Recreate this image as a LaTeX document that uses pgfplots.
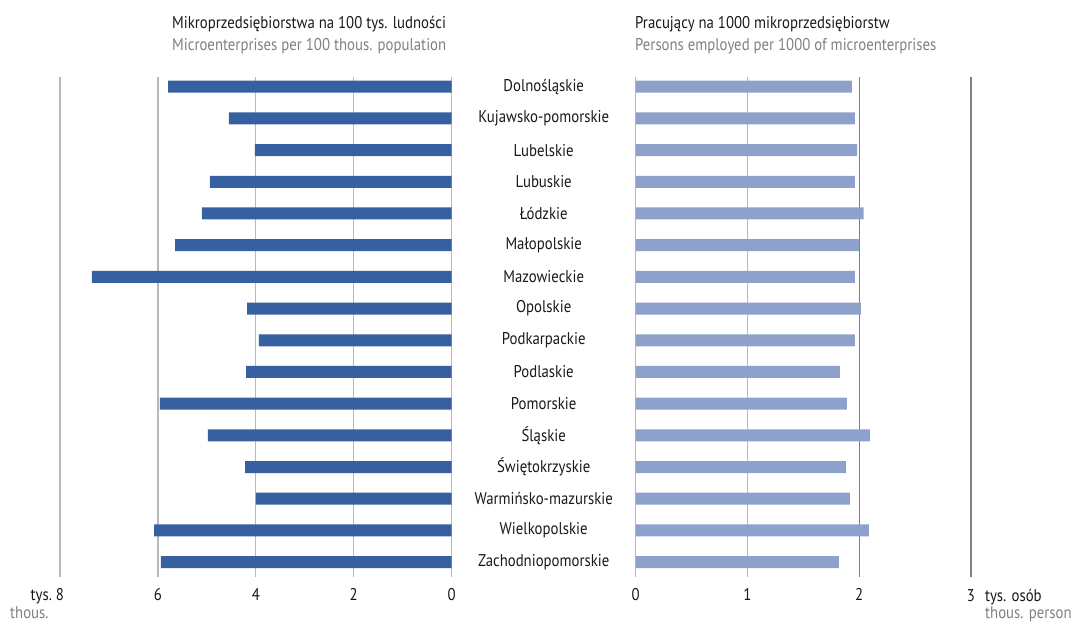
\documentclass[border=0pt]{standalone}
\usepackage{fontspec}
\setmainfont{PT Sans}[FakeStretch=0.87]
\usepackage{pgfplots}
\pgfplotsset{compat=1.18}
\definecolor{barL}{RGB}{54,96,160}
\definecolor{barR}{RGB}{142,161,203}
\definecolor{gridL}{RGB}{185,185,185}
\definecolor{gridD}{RGB}{128,128,128}
\definecolor{subgray}{RGB}{128,128,128}
\newcommand\fs{\fontsize{17}{20}\selectfont}

\pgfplotsset{
  halfbar/.style={
    scale only axis,
    xbar,
    bar width=12pt,
    height=500pt,
    y dir=reverse,
    ymin=0.694, ymax=16.47,
    axis line style={draw=none},
    major tick length=0pt,
    xmajorgrids=true,
    grid style={gridL, line width=1.3pt},
    ticklabel style={font=\fs, text=black!90},
    xticklabel style={yshift=-6pt},
  }
}

\begin{document}
\fs
\begin{tikzpicture}[x=1pt,y=1pt]
\useasboundingbox (0,0) rectangle (1073,621);

% lewa czesc: mikroprzedsiebiorstwa na 100 tys. ludnosci
\begin{axis}[halfbar,
  at={(60pt,44pt)}, anchor=south west,
  width=391.7pt,
  x dir=reverse,
  xmin=0, xmax=8,
  xtick={0,2,4,6,8},
  xticklabels={0,2,4,6,\llap{tys.\hspace{4pt}}8},
  ytick=\empty,
]
\addplot[fill=barL, draw=none] coordinates {
  (5.79,1) (4.55,2) (4.02,3) (4.94,4) (5.10,5) (5.65,6) (7.35,7) (4.18,8)
  (3.94,9) (4.20,10) (5.96,11) (4.98,12) (4.22,13) (4.00,14) (6.08,15) (5.94,16)
};
\end{axis}

% prawa czesc: pracujacy na 1000 mikroprzedsiebiorstw
\begin{axis}[halfbar,
  at={(635.7pt,44pt)}, anchor=south west,
  width=335.3pt,
  xmin=0, xmax=3,
  xtick={0,1,2,3},
  xticklabels={0,1,2,3\rlap{\hspace{10pt}tys. osób}},
  extra x ticks={2,3},
  extra x tick labels={},
  extra x tick style={grid style={gridD, line width=1.3pt}},
  ytick={1,...,16},
  yticklabels={Dolnośląskie,Kujawsko-pomorskie,Lubelskie,Lubuskie,Łódzkie,Małopolskie,Mazowieckie,Opolskie,Podkarpackie,Podlaskie,Pomorskie,Śląskie,Świętokrzyskie,Warmińsko-mazurskie,Wielkopolskie,Zachodniopomorskie},
  yticklabel style={anchor=center, xshift=-92pt},
]
\addplot[fill=barR, draw=none] coordinates {
  (1.935,1) (1.962,2) (1.98,3) (1.962,4) (2.04,5) (2.00,6) (1.962,7) (2.015,8)
  (1.962,9) (1.827,10) (1.89,11) (2.095,12) (1.88,13) (1.916,14) (2.087,15) (1.818,16)
};
\end{axis}

% tytuly
\node[anchor=base west, inner sep=0pt, text=black!90] at (172,592) {Mikroprzedsiębiorstwa na 100 tys. ludności};
\node[anchor=base west, inner sep=0pt, text=subgray] at (172,570) {Microenterprises per 100 thous. population};
\node[anchor=base west, inner sep=0pt, text=black!90] at (635,592) {Pracujący na 1000 mikroprzedsiębiorstw};
\node[anchor=base west, inner sep=0pt, text=subgray] at (635,570) {Persons employed per 1000 of microenterprises};

% jednostki angielskie
\node[anchor=base west, inner sep=0pt, text=subgray] at (10,3) {thous.};
\node[anchor=base west, inner sep=0pt, text=subgray] at (985,3) {thous. person};
\end{tikzpicture}
\end{document}
